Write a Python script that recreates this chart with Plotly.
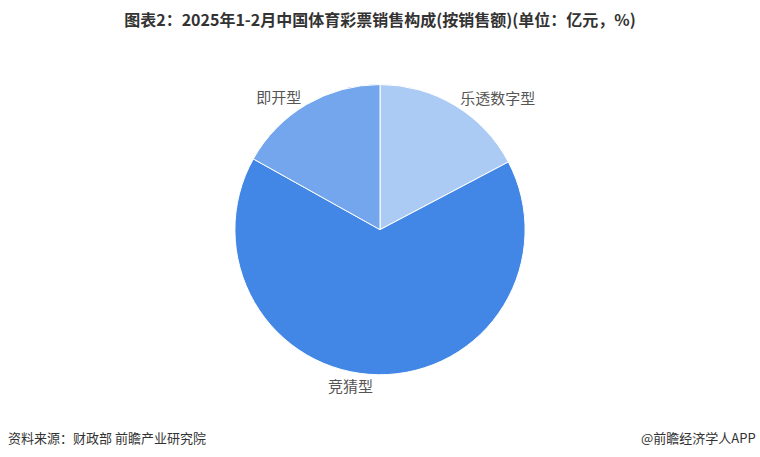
import plotly.graph_objects as go

labels = ["乐透数字型", "竞猜型", "即开型"]
values = [99.8, 380.2, 97.6]
colors = ["#abcbf5", "#4287e6", "#74a6ed"]

fig = go.Figure()
fig.add_trace(go.Pie(
    labels=labels,
    values=values,
    sort=False,
    direction="clockwise",
    rotation=0,
    marker=dict(colors=colors, line=dict(color="#ffffff", width=1)),
    textinfo="label",
    textposition="outside",
    textfont=dict(family="Noto Sans CJK SC", size=15, color="#555555"),
    showlegend=False,
    hoverinfo="label+value+percent",
    domain=dict(x=[0.3, 0.7], y=[0.18, 0.815]),
))

fig.update_layout(
    width=760, height=457,
    margin=dict(l=0, r=0, t=0, b=0),
    paper_bgcolor="#ffffff",
    plot_bgcolor="#ffffff",
    title=dict(
        text="<b>图表2：2025年1-2月中国体育彩票销售构成(按销售额)(单位：亿元，%)</b>",
        x=0.5, xanchor="center", y=0.955, yanchor="middle",
        font=dict(family="Noto Sans CJK SC", size=16, color="#333333"),
    ),
    annotations=[
        dict(text="资料来源：财政部 前瞻产业研究院", x=0.008, y=0.043, xref="paper", yref="paper",
             xanchor="left", yanchor="middle", showarrow=False,
             font=dict(family="Noto Sans CJK SC", size=13, color="#333333")),
        dict(text="@前瞻经济学人APP", x=0.998, y=0.043, xref="paper", yref="paper",
             xanchor="right", yanchor="middle", showarrow=False,
             font=dict(family="Noto Sans CJK SC", size=13, color="#333333")),
    ],
)

fig.write_html("out.html", config={"displayModeBar": False},
               post_script="document.body.style.margin='0';document.body.style.overflow='hidden';")
